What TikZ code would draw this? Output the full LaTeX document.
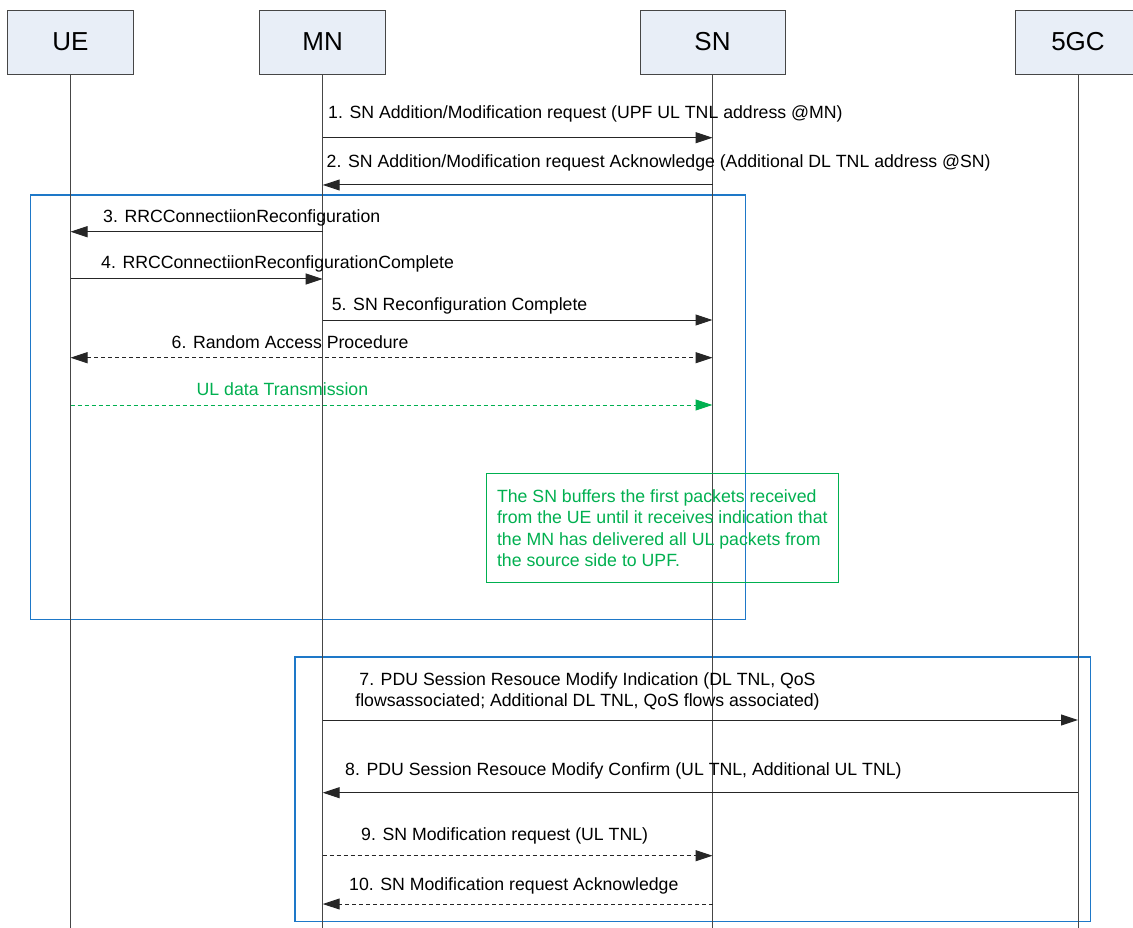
\documentclass[tikz,border=0pt]{standalone}
\usepackage{fontspec}
\setmainfont{Liberation Sans}
\usetikzlibrary{arrows.meta}
\definecolor{hdrfill}{RGB}{232,238,247}
\definecolor{boxblue}{RGB}{30,120,200}
\definecolor{notegreen}{RGB}{0,176,80}
\definecolor{lifegray}{RGB}{70,70,70}
\begin{document}
\begin{tikzpicture}[x=1pt,y=-1pt,
  >={Triangle[length=17pt,width=11pt]},
  every node/.style={font=\fontsize{17.7}{21.5}\selectfont},
  hdr/.style={draw=lifegray, fill=hdrfill, line width=0.8pt, minimum height=64pt, inner sep=0pt, font=\fontsize{26}{30}\selectfont},
  life/.style={draw=lifegray, line width=0.9pt},
  msg/.style={draw=black!85, line width=1pt, ->},
  dmsg/.style={msg, dash pattern=on 4pt off 3pt},
  lbl/.style={anchor=base west, inner sep=0pt},
  grp/.style={draw=boxblue, line width=1.5pt},
]
\useasboundingbox (0,0) rectangle (1133,928);
\fill[white] (0,0) rectangle (1133,928);

% group boxes
\draw[grp] (30.7,195) rectangle (745.3,619.3);
\draw[grp] (295,657) rectangle (1090.6,921.7);

% participants
\node[hdr, minimum width=126pt] (UE) at (70.5,42) {UE};
\node[hdr, minimum width=126pt] (MN) at (322.7,42) {MN};
\node[hdr, minimum width=145pt] (SN) at (712.5,42) {SN};
\node[hdr, minimum width=126pt] (CN) at (1078,42) {5GC};

\coordinate (UEe) at (70.5,928);
\coordinate (MNe) at (322.7,928);
\coordinate (SNe) at (712.5,928);
\coordinate (CNe) at (1078,928);

\draw[life] (UE) -- (UEe);
\draw[life] (MN) -- (MNe);
\draw[life] (SN) -- (SNe);
\draw[life] (CN) -- (CNe);

% messages
\node[lbl] (l1) at (328,118.5) {1. SN Addition/Modification request (UPF UL TNL address @MN)};
\draw[msg] (MN |- 0,137.7) -- (SN |- 0,137.7);

\node[lbl] (l2) at (326.5,167.5) {2. SN Addition/Modification request Acknowledge (Additional DL TNL address @SN)};
\draw[msg] (SN |- 0,185) -- (MN |- 0,185);

\node[lbl] (l3) at (103,222.7) {3. RRCConnectiionReconfiguration};
\draw[msg] (MN |- 0,231.7) -- (UE |- 0,231.7);

\node[lbl] (l4) at (101,268.3) {4. RRCConnectiionReconfigurationComplete};
\draw[msg] (UE |- 0,279) -- (MN |- 0,279);

\node[lbl] (l5) at (331.7,310) {5. SN Reconfiguration Complete};
\draw[msg] (MN |- 0,320) -- (SN |- 0,320);

\node[lbl] (l6) at (171.5,348.3) {6. Random Access Procedure};
\draw[dmsg, <->] (UE |- 0,357.7) -- (SN |- 0,357.7);

\node[lbl, text=notegreen] (l6b) at (196.5,395.5) {UL data Transmission};
\draw[dmsg, draw=notegreen] (UE |- 0,405) -- (SN |- 0,405);

% note
\node[draw=notegreen, text=notegreen, line width=1pt, anchor=north west, align=left,
      inner xsep=4pt, inner ysep=4pt, minimum width=352.3pt, minimum height=108.4pt] (note)
  at (485.7,473.3) {The SN buffers the first packets received\\from the UE until it receives indication that\\the MN has delivered all UL packets from\\the source side to UPF.};

\node[align=center, inner sep=0pt] (l7) at (587.5,691.2) {7. PDU Session Resouce Modify Indication (DL TNL, QoS\\flowsassociated; Additional DL TNL, QoS flows associated)};
\draw[msg] (MN |- 0,720) -- (CN |- 0,720);

\node[lbl] (l8) at (345,775) {8. PDU Session Resouce Modify Confirm (UL TNL, Additional UL TNL)};
\draw[msg] (CN |- 0,792.7) -- (MN |- 0,792.7);

\node[lbl] (l9) at (361,840.7) {9. SN Modification request (UL TNL)};
\draw[dmsg] (MN |- 0,855.7) -- (SN |- 0,855.7);

\node[lbl] (l10) at (349,890) {10. SN Modification request Acknowledge};
\draw[dmsg] (SN |- 0,904) -- (MN |- 0,904);
\end{tikzpicture}
\end{document}
